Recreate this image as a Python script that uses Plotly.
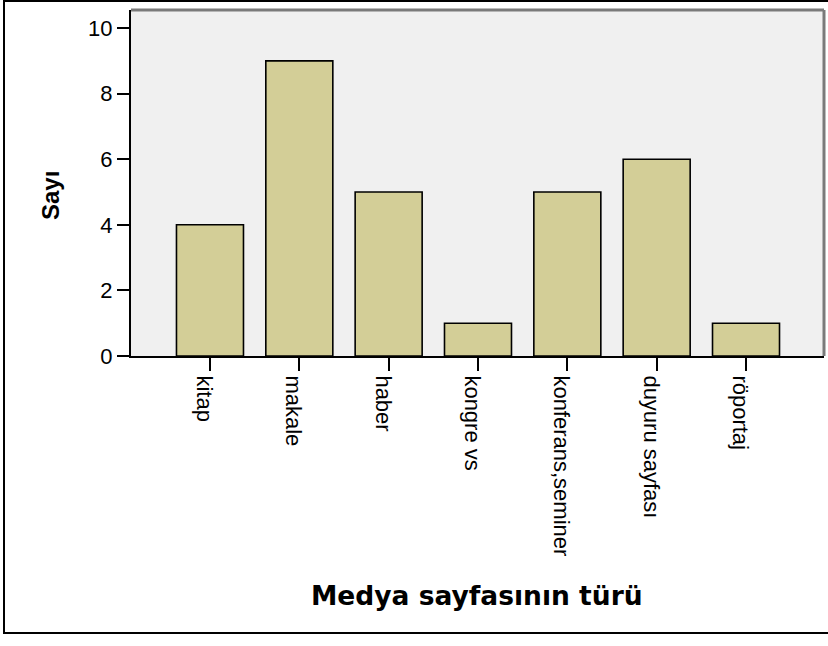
import plotly.graph_objects as go

categories = ["kitap", "makale", "haber", "kongre vs", "konferans,seminer", "duyuru sayfası", "röportaj"]
counts = [4, 9, 5, 1, 5, 6, 1]
y_ticks = [0, 2, 4, 6, 8, 10]
y_title = "Sayı"
x_title = "Medya sayfasının türü"

W, H = 828, 646
L, R, T, B = 131, 4, 10, 290
pw, ph = W - L - R, H - T - B

def px_x(x):
    return (x - L) / pw

def px_y(y):
    return (H - B - y) / ph

fig = go.Figure()
fig.add_trace(go.Bar(
    x=categories, y=counts, width=0.75,
    marker=dict(color="#D3CE97", line=dict(color="#000000", width=1.6)),
    hoverinfo="skip",
))

fig.update_layout(
    width=W, height=H,
    margin=dict(l=L, r=R, t=T, b=B),
    paper_bgcolor="white", plot_bgcolor="#F0F0F0",
    showlegend=False,
    xaxis=dict(
        range=[-0.884, 6.873], showgrid=False, zeroline=False,
        showline=True, linecolor="black", linewidth=2,
        ticks="outside", ticklen=13, tickwidth=2, tickcolor="black",
        tickangle=90, ticklabelshift=-6,
        tickfont=dict(family="Liberation Sans, Arial", size=22, color="black"),
    ),
    yaxis=dict(
        range=[0, 10.55], showgrid=False, zeroline=False,
        showline=True, linecolor="black", linewidth=2,
        tickvals=y_ticks, ticks="outside", ticklen=12, tickwidth=2, tickcolor="black",
        tickfont=dict(family="Liberation Sans, Arial", size=22, color="black"),
    ),
    annotations=[
        dict(text=y_title, xref="paper", yref="paper", x=px_x(50), y=px_y(196),
             textangle=-90, showarrow=False, xanchor="center", yanchor="middle",
             font=dict(family="Liberation Sans, Arial", size=24, color="black", weight="bold")),
        dict(text=x_title, xref="paper", yref="paper", x=px_x(477), y=px_y(595),
             showarrow=False, xanchor="center", yanchor="middle",
             font=dict(family="DejaVu Sans", size=26.5, color="black", weight="bold")),
    ],
    shapes=[
        # outer frame
        dict(type="rect", xref="paper", yref="paper",
             x0=px_x(4), x1=px_x(832), y0=px_y(633), y1=px_y(1),
             line=dict(color="black", width=2), fillcolor="rgba(0,0,0,0)", layer="above"),
        # plot area top and right borders (gray)
        dict(type="line", xref="paper", yref="paper", x0=0, x1=1, y0=1, y1=1,
             line=dict(color="#7A7A7A", width=3), layer="above"),
        dict(type="line", xref="paper", yref="paper", x0=1, x1=1, y0=0, y1=1,
             line=dict(color="#7A7A7A", width=3), layer="above"),
    ],
)

fig.write_html(
    "out.html",
    config={"displayModeBar": False},
    post_script="document.body.style.margin='0';document.body.style.padding='0';document.body.style.overflow='hidden';",
)
